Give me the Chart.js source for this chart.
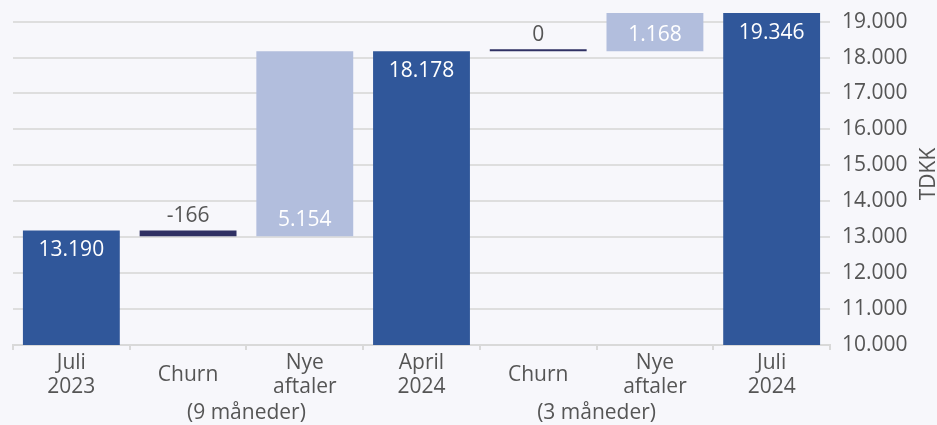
<!DOCTYPE html>
<html>
<head>
<meta charset="utf-8">
<script src="https://cdn.jsdelivr.net/npm/chart.js@4.4.1/dist/chart.umd.min.js"></script>
<style>
    html, body { margin: 0; padding: 0; background: #f7f7fb; }
    #wrap { width: 937px; height: 425px; }
</style>
</head>
<body>
<div id="wrap"><canvas id="chart" width="937" height="425"></canvas></div>
<script>
// Waterfall data (TDKK)
const categories = [['Juli', '2023'], ['Churn'], ['Nye', 'aftaler'], ['April', '2024'], ['Churn'], ['Nye', 'aftaler'], ['Juli', '2024']];
const steps = ['total', 'churn', 'new', 'total', 'churn', 'new', 'total'];
const values = [13190, -166, 5154, 18178, 0, 1168, 19346];
const groupLabels = ['(9 måneder)', '(3 måneder)'];
const groupSpans = [[1, 2], [4, 5]];
const yTicks = [10000, 11000, 12000, 13000, 14000, 15000, 16000, 17000, 18000, 19000];
const yMin = 10000;
const yMax = 19240;
const yTitle = 'TDKK';

const FONT = "'Open Sans', 'Noto Sans', sans-serif";
const FONT_SIZE = 21;
const TEXT = '#555555';
const COLORS = { total: '#30579a', churn: '#2f3063', new: '#b2bedd' };

// Turn steps into floating [start, end] ranges
let running = 0;
const ranges = values.map((v, i) => {
    if (steps[i] === 'total') {
        running = v;
        return [yMin, v];
    }
    const start = running;
    running += v;
    return [start, running];
});

function fmt(v) {
    return String(v).replace(/\B(?=(\d{3})+(?!\d))/g, '.');
}

// Bar value labels, category labels, group labels and rotated axis title
const labelsPlugin = {
    id: 'waterfallLabels',
    afterDatasetsDraw(chart) {
        const ctx = chart.ctx;
        const area = chart.chartArea;
        const meta = chart.getDatasetMeta(0);
        ctx.save();
        ctx.font = FONT_SIZE + 'px ' + FONT;
        ctx.textAlign = 'center';
        ctx.textBaseline = 'middle';
        meta.data.forEach((bar, i) => {
            const top = Math.max(Math.min(bar.y, bar.base), area.top);
            const bottom = Math.min(Math.max(bar.y, bar.base), area.bottom);
            let y, color;
            if (steps[i] === 'total') {
                y = top + 20; color = '#ffffff';
            } else if (steps[i] === 'new') {
                y = bottom - 16; color = '#ffffff';
            } else {
                y = top - 14; color = TEXT;
            }
            ctx.fillStyle = color;
            ctx.fillText(fmt(values[i]), bar.x, y);
        });
        ctx.restore();
    },
    afterDraw(chart) {
        const ctx = chart.ctx;
        const area = chart.chartArea;
        const xs = chart.scales.x;
        ctx.save();
        ctx.font = FONT_SIZE + 'px ' + FONT;
        ctx.fillStyle = TEXT;
        ctx.textAlign = 'center';
        ctx.textBaseline = 'middle';
        categories.forEach((lines, i) => {
            const x = xs.getPixelForValue(i);
            const first = area.bottom + 30.5 - (lines.length - 1) * 12;
            lines.forEach((line, j) => ctx.fillText(line, x, first + j * 24));
        });
        groupSpans.forEach((span, g) => {
            const x = (xs.getPixelForValue(span[0]) + xs.getPixelForValue(span[1])) / 2;
            ctx.fillText(groupLabels[g], x, area.bottom + 68);
        });
        ctx.translate(chart.width - 8, (area.top + area.bottom) / 2 - 5);
        ctx.rotate(-Math.PI / 2);
        ctx.fillText(yTitle, 0, 0);
        ctx.restore();
    }
};

new Chart(document.getElementById('chart'), {
    type: 'bar',
    data: {
        labels: categories,
        datasets: [{
            data: ranges,
            backgroundColor: steps.map(s => COLORS[s]),
            barPercentage: 0.83,
            categoryPercentage: 1,
            minBarLength: 2
        }]
    },
    options: {
        responsive: false,
        animation: false,
        devicePixelRatio: 1,
        layout: { padding: { left: 13, top: 13, right: 0, bottom: 0 } },
        plugins: {
            legend: { display: false },
            tooltip: { enabled: false }
        },
        scales: {
            x: {
                ticks: { display: false },
                grid: {
                    drawOnChartArea: false,
                    drawTicks: true,
                    tickLength: 5,
                    color: '#d9d9d9',
                    lineWidth: 2
                },
                border: { display: true, color: '#d9d9d9', width: 2 },
                afterFit(scale) { scale.height = 80; }
            },
            y: {
                position: 'right',
                min: yMin,
                max: yMax,
                afterBuildTicks(scale) {
                    scale.ticks = yTicks.map(v => ({ value: v }));
                },
                ticks: {
                    padding: 12,
                    color: TEXT,
                    font: { family: FONT, size: FONT_SIZE },
                    callback: v => fmt(v)
                },
                grid: {
                    drawTicks: false,
                    color: '#dedede',
                    lineWidth: 2
                },
                border: { display: false },
                afterFit(scale) {
                    scale.width = 107;
                    scale.paddingTop = 0;
                    scale.paddingBottom = 0;
                }
            }
        }
    },
    plugins: [labelsPlugin]
});
</script>
</body>
</html>
